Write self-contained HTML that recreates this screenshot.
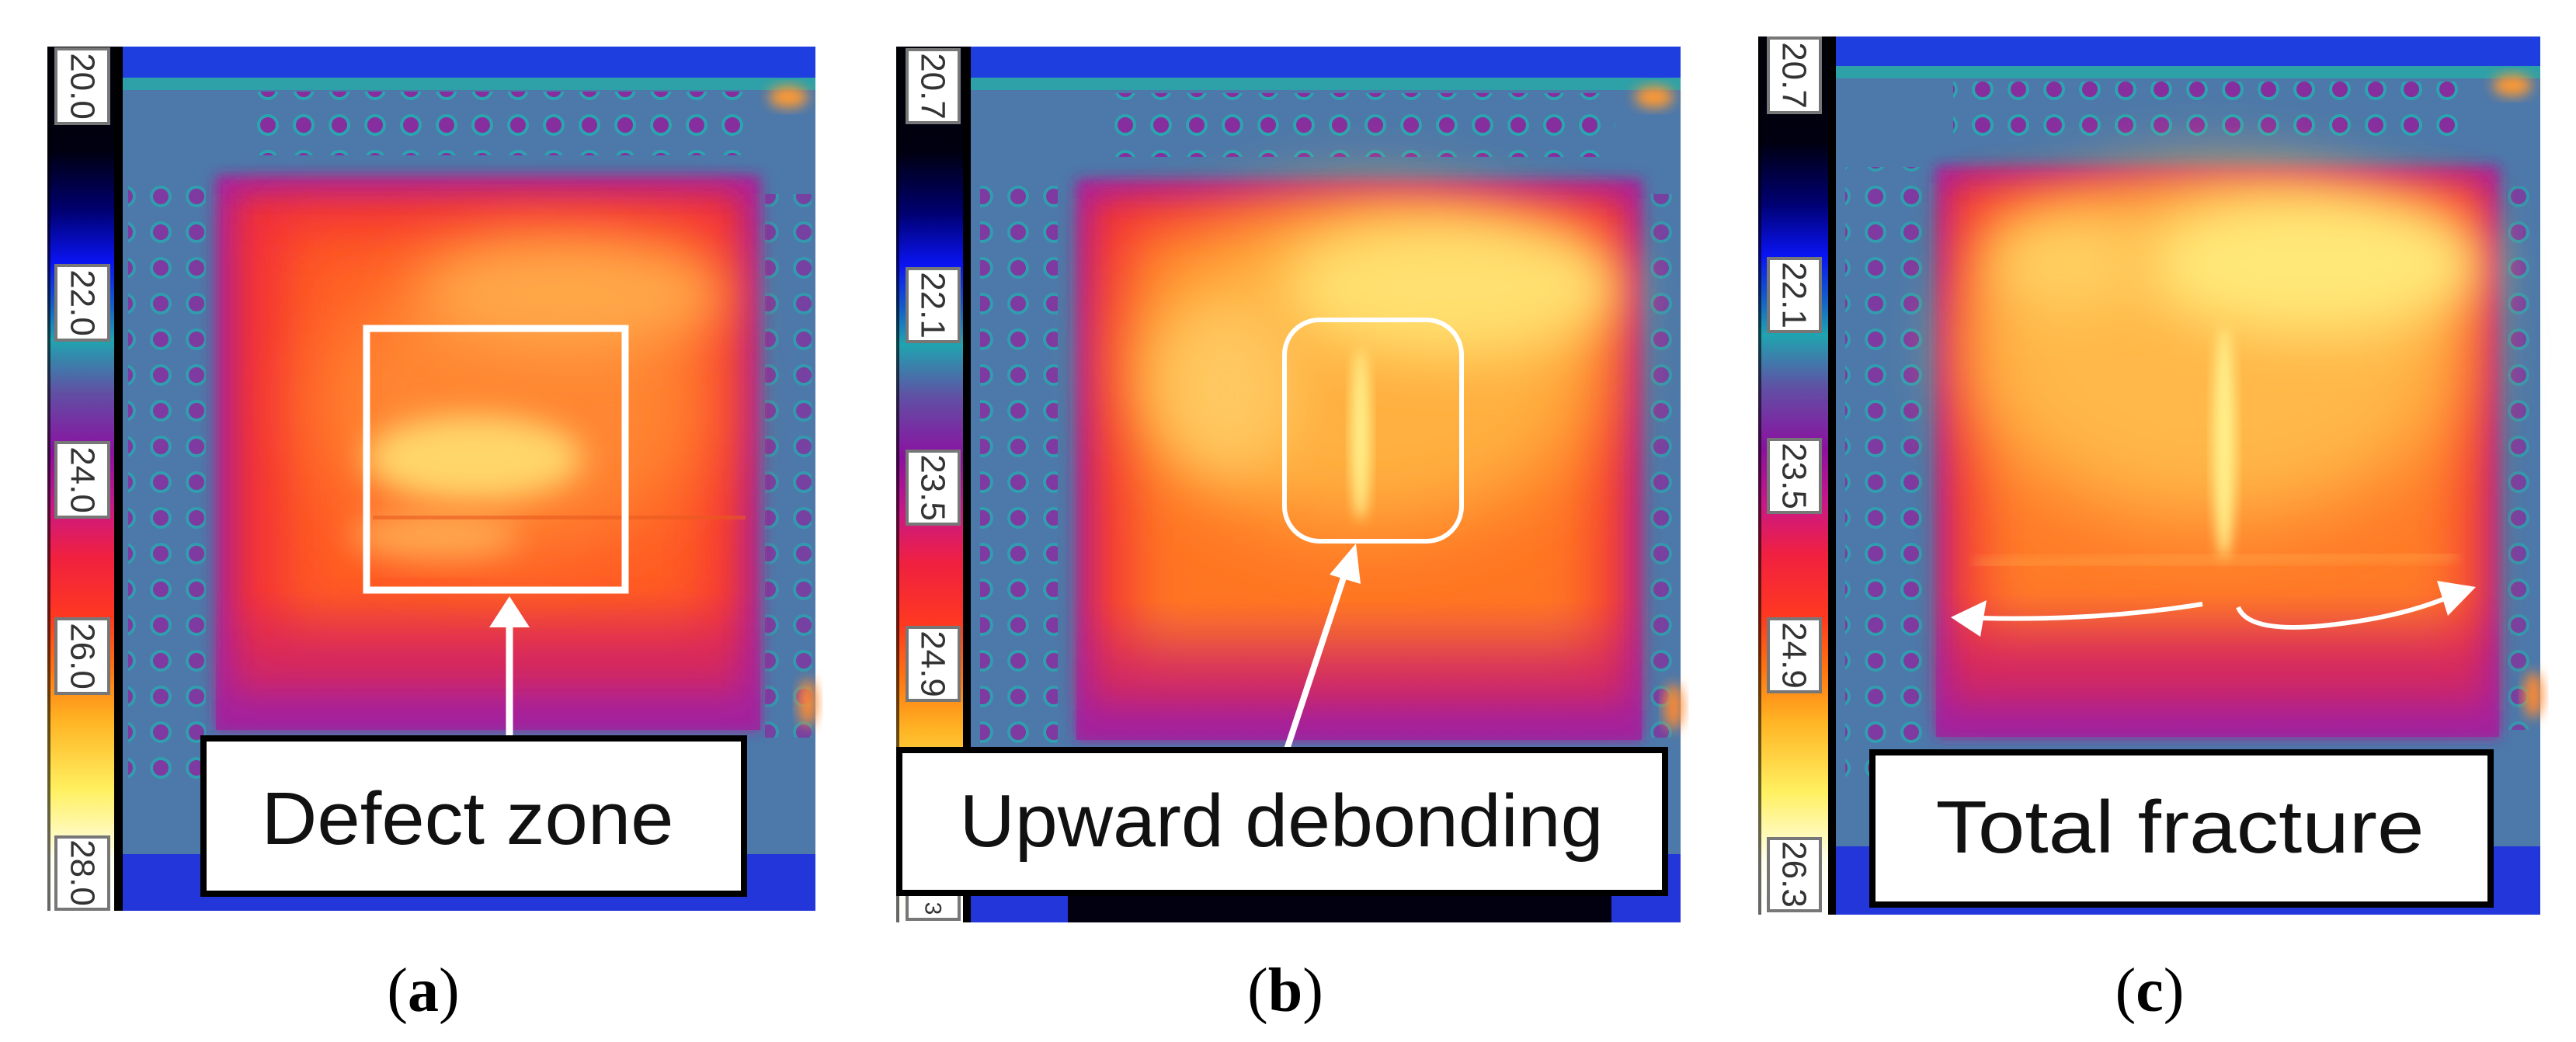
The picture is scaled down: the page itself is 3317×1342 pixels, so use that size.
<!DOCTYPE html>
<html><head><meta charset="utf-8">
<style>
html,body{margin:0;padding:0;background:#fff;}
svg{display:block;}
</style></head>
<body>
<svg width="3317" height="1342" viewBox="0 0 3317 1342" xmlns="http://www.w3.org/2000/svg">
<defs>
  <filter id="b8" x="-30%" y="-30%" width="160%" height="160%"><feGaussianBlur stdDeviation="8"/></filter>
  <filter id="b20" x="-40%" y="-40%" width="180%" height="180%"><feGaussianBlur stdDeviation="20"/></filter>
  <filter id="b35" x="-50%" y="-50%" width="200%" height="200%"><feGaussianBlur stdDeviation="35"/></filter>
  <filter id="b50" x="-60%" y="-60%" width="220%" height="220%"><feGaussianBlur stdDeviation="50"/></filter>
  <linearGradient id="cbar" x1="0" y1="0" x2="0" y2="1">
    <stop offset="0" stop-color="#000008"/>
    <stop offset="0.12" stop-color="#000010"/>
    <stop offset="0.19" stop-color="#000070"/>
    <stop offset="0.25" stop-color="#0a14f4"/>
    <stop offset="0.30" stop-color="#1460c8"/>
    <stop offset="0.34" stop-color="#20a4b0"/>
    <stop offset="0.40" stop-color="#6050a4"/>
    <stop offset="0.47" stop-color="#8c10a0"/>
    <stop offset="0.53" stop-color="#c81888"/>
    <stop offset="0.59" stop-color="#f02040"/>
    <stop offset="0.66" stop-color="#ff3820"/>
    <stop offset="0.72" stop-color="#ff7410"/>
    <stop offset="0.78" stop-color="#ffb424"/>
    <stop offset="0.86" stop-color="#fff060"/>
    <stop offset="0.94" stop-color="#fffff0"/>
    <stop offset="1" stop-color="#ffffff"/>
  </linearGradient>
  <pattern id="dots" width="46" height="46" patternUnits="userSpaceOnUse">
    <circle cx="23" cy="23" r="12" fill="#8a2a9e" stroke="#2aa6b0" stroke-width="4"/>
  </pattern>
  <linearGradient id="plateFadeA" x1="0" y1="0" x2="0" y2="1">
    <stop offset="0" stop-color="#b0209a" stop-opacity="0"/>
    <stop offset="0.75" stop-color="#b0209a" stop-opacity="0"/>
    <stop offset="1" stop-color="#a0209e" stop-opacity="0.75"/>
  </linearGradient>
</defs>

<!-- ================= PANEL A ================= -->
<g>
  <g>
    <rect x="158" y="60" width="892" height="1113" fill="#4c78aa"/>
    <rect x="158" y="60" width="892" height="42" fill="#1e3ee0"/>
    <rect x="158" y="100" width="892" height="16" fill="#2ea0a8"/>
    <rect x="330" y="118" width="640" height="82" fill="url(#dots)" opacity="0.95"/>
    <rect x="165" y="230" width="100" height="780" fill="url(#dots)" opacity="0.8"/>
    <rect x="985" y="250" width="60" height="700" fill="url(#dots)" opacity="0.7"/>
    <rect x="158" y="1100" width="892" height="73" fill="#2236da"/>
    <ellipse cx="1015" cy="125" rx="25" ry="14" fill="#ff9a30" filter="url(#b8)"/>
    <ellipse cx="1040" cy="905" rx="12" ry="30" fill="#ff8a30" filter="url(#b8)"/>
    <rect x="278" y="226" width="701" height="714" fill="#a8209c" filter="url(#b8)"/>
    <rect x="300" y="250" width="655" height="650" fill="#f02a3a" filter="url(#b20)"/>
    <rect x="360" y="290" width="560" height="520" fill="#ff5a22" filter="url(#b35)"/>
    <ellipse cx="660" cy="520" rx="250" ry="190" fill="#ff8630" filter="url(#b50)"/>
    <ellipse cx="740" cy="380" rx="200" ry="70" fill="#ffa848" filter="url(#b35)"/>
    <ellipse cx="610" cy="590" rx="140" ry="55" fill="#ffd66a" filter="url(#b20)"/>
    <ellipse cx="560" cy="690" rx="110" ry="30" fill="#ffa850" filter="url(#b20)"/>
    <rect x="480" y="664" width="480" height="5" fill="#e85a20" opacity="0.6"/>
    <rect x="278" y="226" width="701" height="714" fill="url(#plateFadeA)"/>
  </g>
  <g>
    <rect x="61" y="60" width="88" height="1113" fill="url(#cbar)"/>
    <rect x="147" y="60" width="11" height="1113" fill="#000"/>
    <rect x="61" y="60" width="4" height="1113" fill="#000" opacity="0.6"/>
  </g>
  <rect x="472" y="423" width="333" height="337" fill="none" stroke="#fff" stroke-width="9"/>
  <g>
    <line x1="656" y1="950" x2="656" y2="800" stroke="#fff" stroke-width="9"/>
    <polygon points="656,768 630,808 682,808" fill="#fff"/>
  </g>
  <g>
    <rect x="262" y="951" width="696" height="200" fill="#fff" stroke="#000" stroke-width="8"/>
    <text x="602" y="1087" font-family="Liberation Sans, DejaVu Sans, sans-serif" font-size="96" text-anchor="middle" textLength="531" lengthAdjust="spacingAndGlyphs" fill="#111">Defect zone</text>
  </g>
  <g><rect x="72" y="63" width="68" height="96" fill="#fff" stroke="#777" stroke-width="4"/><text transform="translate(106,111) rotate(90)" font-family="Liberation Sans, sans-serif" font-size="44" text-anchor="middle" dominant-baseline="central" fill="#333">20.0</text></g>
  <g><rect x="72" y="342" width="68" height="96" fill="#fff" stroke="#777" stroke-width="4"/><text transform="translate(106,390) rotate(90)" font-family="Liberation Sans, sans-serif" font-size="44" text-anchor="middle" dominant-baseline="central" fill="#333">22.0</text></g>
  <g><rect x="72" y="570" width="68" height="96" fill="#fff" stroke="#777" stroke-width="4"/><text transform="translate(106,618) rotate(90)" font-family="Liberation Sans, sans-serif" font-size="44" text-anchor="middle" dominant-baseline="central" fill="#333">24.0</text></g>
  <g><rect x="72" y="797" width="68" height="96" fill="#fff" stroke="#777" stroke-width="4"/><text transform="translate(106,845) rotate(90)" font-family="Liberation Sans, sans-serif" font-size="44" text-anchor="middle" dominant-baseline="central" fill="#333">26.0</text></g>
  <g><rect x="72" y="1078" width="68" height="93" fill="#fff" stroke="#777" stroke-width="4"/><text transform="translate(106,1124) rotate(90)" font-family="Liberation Sans, sans-serif" font-size="44" text-anchor="middle" dominant-baseline="central" fill="#333">28.0</text></g>
  <text x="545" y="1302" font-family="Liberation Serif, serif" font-size="80" text-anchor="middle" fill="#000">(<tspan font-weight="bold">a</tspan>)</text>
</g>

<!-- ================= PANEL B ================= -->
<g>
  <g>
    <rect x="1250" y="60" width="914" height="1128" fill="#4c78aa"/>
    <rect x="1250" y="60" width="914" height="42" fill="#1e3ee0"/>
    <rect x="1250" y="100" width="914" height="16" fill="#2ea0a8"/>
    <rect x="1420" y="120" width="660" height="82" fill="url(#dots)" opacity="0.95"/>
    <rect x="1262" y="230" width="100" height="780" fill="url(#dots)" opacity="0.8"/>
    <rect x="2120" y="250" width="44" height="700" fill="url(#dots)" opacity="0.7"/>
    <rect x="1250" y="1100" width="914" height="88" fill="#2236da"/>
    <rect x="1375" y="1150" width="700" height="38" fill="#020010"/>
    <ellipse cx="2130" cy="125" rx="25" ry="14" fill="#ff9a30" filter="url(#b8)"/>
    <ellipse cx="2155" cy="910" rx="12" ry="30" fill="#ff8a30" filter="url(#b8)"/>
    <rect x="1386" y="231" width="728" height="722" fill="#a8209c" filter="url(#b8)"/>
    <rect x="1405" y="255" width="690" height="660" fill="#f02a3a" filter="url(#b20)"/>
    <rect x="1450" y="290" width="610" height="560" fill="#ff7424" filter="url(#b35)"/>
    <ellipse cx="1760" cy="470" rx="300" ry="210" fill="#ffb040" filter="url(#b50)"/>
    <ellipse cx="1870" cy="370" rx="220" ry="90" fill="#ffe070" filter="url(#b35)"/>
    <ellipse cx="1580" cy="500" rx="90" ry="110" fill="#ffc860" filter="url(#b35)"/>
    <ellipse cx="1752" cy="560" rx="12" ry="110" fill="#fff08a" filter="url(#b8)"/>
    <rect x="1386" y="231" width="728" height="722" fill="url(#plateFadeA)"/>
  </g>
  <g>
    <rect x="1154" y="60" width="88" height="1128" fill="url(#cbar)"/>
    <rect x="1240" y="60" width="10" height="1128" fill="#000"/>
    <rect x="1154" y="60" width="4" height="1128" fill="#000" opacity="0.6"/>
  </g>
  <g><rect x="1168" y="1150" width="67" height="34" fill="#fff" stroke="#777" stroke-width="4"/><text x="1201" y="1170" font-family="Liberation Sans, sans-serif" font-size="30" text-anchor="middle" dominant-baseline="central" fill="#333" transform="rotate(90,1201,1170)">3</text></g>
  <rect x="1654" y="412" width="228" height="285" rx="45" ry="45" fill="none" stroke="#fff" stroke-width="6"/>
  <g>
    <line x1="1657" y1="965" x2="1733" y2="735" stroke="#fff" stroke-width="8"/>
    <polygon points="1746,700 1712,740 1752,752" fill="#fff"/>
  </g>
  <g>
    <rect x="1158" y="966" width="986" height="184" fill="#fff" stroke="#000" stroke-width="8"/>
    <text x="1650" y="1090" font-family="Liberation Sans, DejaVu Sans, sans-serif" font-size="96" text-anchor="middle" textLength="829" lengthAdjust="spacingAndGlyphs" fill="#111">Upward debonding</text>
  </g>
  <g><rect x="1168" y="64" width="67" height="94" fill="#fff" stroke="#777" stroke-width="4"/><text transform="translate(1201,111) rotate(90)" font-family="Liberation Sans, sans-serif" font-size="44" text-anchor="middle" dominant-baseline="central" fill="#333">20.7</text></g>
  <g><rect x="1168" y="346" width="67" height="94" fill="#fff" stroke="#777" stroke-width="4"/><text transform="translate(1201,393) rotate(90)" font-family="Liberation Sans, sans-serif" font-size="44" text-anchor="middle" dominant-baseline="central" fill="#333">22.1</text></g>
  <g><rect x="1168" y="581" width="67" height="94" fill="#fff" stroke="#777" stroke-width="4"/><text transform="translate(1201,628) rotate(90)" font-family="Liberation Sans, sans-serif" font-size="44" text-anchor="middle" dominant-baseline="central" fill="#333">23.5</text></g>
  <g><rect x="1168" y="808" width="67" height="94" fill="#fff" stroke="#777" stroke-width="4"/><text transform="translate(1201,855) rotate(90)" font-family="Liberation Sans, sans-serif" font-size="44" text-anchor="middle" dominant-baseline="central" fill="#333">24.9</text></g>
  <text x="1655" y="1302" font-family="Liberation Serif, serif" font-size="80" text-anchor="middle" fill="#000">(<tspan font-weight="bold">b</tspan>)</text>
</g>

<!-- ================= PANEL C ================= -->
<g>
  <g>
    <rect x="2364" y="47" width="907" height="1131" fill="#4c78aa"/>
    <rect x="2364" y="47" width="907" height="40" fill="#1e3ee0"/>
    <rect x="2364" y="85" width="907" height="16" fill="#2ea0a8"/>
    <rect x="2515" y="105" width="660" height="82" fill="url(#dots)" opacity="0.95"/>
    <rect x="2376" y="215" width="100" height="790" fill="url(#dots)" opacity="0.8"/>
    <rect x="3228" y="240" width="43" height="700" fill="url(#dots)" opacity="0.7"/>
    <rect x="2364" y="1090" width="907" height="88" fill="#2236da"/>
    <ellipse cx="3235" cy="110" rx="25" ry="14" fill="#ff9a30" filter="url(#b8)"/>
    <ellipse cx="3262" cy="895" rx="12" ry="30" fill="#ff8a30" filter="url(#b8)"/>
    <rect x="2493" y="214" width="725" height="735" fill="#a8209c" filter="url(#b8)"/>
    <rect x="2510" y="235" width="690" height="680" fill="#f02a3a" filter="url(#b20)"/>
    <rect x="2545" y="260" width="630" height="560" fill="#ff7a26" filter="url(#b35)"/>
    <ellipse cx="2850" cy="450" rx="320" ry="220" fill="#ffb84a" filter="url(#b50)"/>
    <ellipse cx="2980" cy="340" rx="220" ry="90" fill="#ffe878" filter="url(#b35)"/>
    <ellipse cx="2660" cy="340" rx="100" ry="60" fill="#ffd060" filter="url(#b35)"/>
    <ellipse cx="2864" cy="570" rx="14" ry="150" fill="#fff08a" filter="url(#b8)"/>
    <line x1="2543" y1="726" x2="3164" y2="716" stroke="#ffc860" stroke-width="5" filter="url(#b8)" opacity="0.8"/>
    <rect x="2493" y="214" width="725" height="735" fill="url(#plateFadeA)"/>
  </g>
  <g>
    <rect x="2264" y="47" width="92" height="1131" fill="url(#cbar)"/>
    <rect x="2354" y="47" width="10" height="1131" fill="#000"/>
    <rect x="2264" y="47" width="4" height="1131" fill="#000" opacity="0.6"/>
  </g>
  <g>
    <path d="M2836,778 Q2700,800 2548,796" fill="none" stroke="#fff" stroke-width="6"/>
    <polygon points="2512,795 2558,773 2550,820" fill="#fff"/>
    <path d="M2882,782 Q2895,815 2990,806 Q3090,796 3155,768" fill="none" stroke="#fff" stroke-width="6"/>
    <polygon points="3188,756 3138,748 3152,793" fill="#fff"/>
  </g>
  <g>
    <rect x="2411" y="969" width="796" height="196" fill="#fff" stroke="#000" stroke-width="8"/>
    <text x="2807" y="1098" font-family="Liberation Sans, DejaVu Sans, sans-serif" font-size="96" text-anchor="middle" textLength="629" lengthAdjust="spacingAndGlyphs" fill="#111">Total fracture</text>
  </g>
  <g><rect x="2277" y="49" width="67" height="96" fill="#fff" stroke="#777" stroke-width="4"/><text transform="translate(2310,97) rotate(90)" font-family="Liberation Sans, sans-serif" font-size="44" text-anchor="middle" dominant-baseline="central" fill="#333">20.7</text></g>
  <g><rect x="2277" y="333" width="67" height="94" fill="#fff" stroke="#777" stroke-width="4"/><text transform="translate(2310,380) rotate(90)" font-family="Liberation Sans, sans-serif" font-size="44" text-anchor="middle" dominant-baseline="central" fill="#333">22.1</text></g>
  <g><rect x="2277" y="566" width="67" height="94" fill="#fff" stroke="#777" stroke-width="4"/><text transform="translate(2310,613) rotate(90)" font-family="Liberation Sans, sans-serif" font-size="44" text-anchor="middle" dominant-baseline="central" fill="#333">23.5</text></g>
  <g><rect x="2277" y="797" width="67" height="94" fill="#fff" stroke="#777" stroke-width="4"/><text transform="translate(2310,844) rotate(90)" font-family="Liberation Sans, sans-serif" font-size="44" text-anchor="middle" dominant-baseline="central" fill="#333">24.9</text></g>
  <g><rect x="2277" y="1080" width="67" height="93" fill="#fff" stroke="#777" stroke-width="4"/><text transform="translate(2310,1126) rotate(90)" font-family="Liberation Sans, sans-serif" font-size="44" text-anchor="middle" dominant-baseline="central" fill="#333">26.3</text></g>
  <text x="2768" y="1302" font-family="Liberation Serif, serif" font-size="80" text-anchor="middle" fill="#000">(<tspan font-weight="bold">c</tspan>)</text>
</g>
</svg>
</body></html>
